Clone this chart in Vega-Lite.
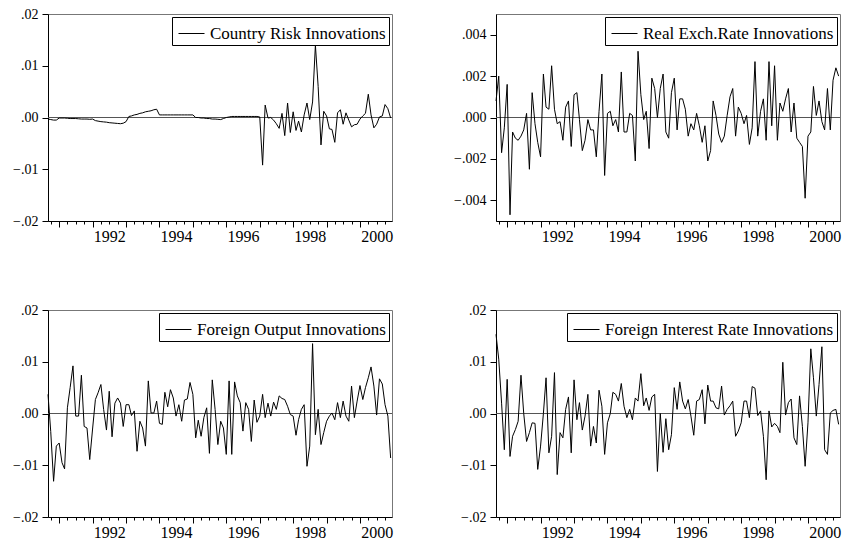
{
  "$schema": "https://vega.github.io/schema/vega-lite/v6.json",
  "padding": {"left": 12, "top": 6, "right": 0, "bottom": 0},
  "background": "white",
  "config": {
    "font": "Liberation Serif",
    "view": {"stroke": "#777777", "strokeWidth": 1},
    "axis": {"domainColor": "black", "tickColor": "black", "labelColor": "black", "labelFont": "Liberation Serif", "domainWidth": 1, "tickWidth": 1, "grid": false},
    "axisX": {"labelFontSize": 16},
    "axisY": {"labelFontSize": 14},
    "legend": {"orient": "top-right", "offset": 3, "symbolType": "stroke", "symbolSize": 676, "symbolStrokeWidth": 1, "labelFont": "Liberation Serif", "labelFontSize": 17, "labelColor": "black", "labelLimit": 0, "strokeColor": "black", "fillColor": "white", "padding": 3, "labelOffset": 5, "symbolOffset": 3}
  },
  "data": {"values": [
    {"date":"1990-09-01","cr":-0.0003,"rer":0.0008,"fo":0.0037,"fi":0.0153},
    {"date":"1990-10-01","cr":-0.0004,"rer":0.002,"fo":-0.0035,"fi":0.0105},
    {"date":"1990-11-01","cr":-0.0005,"rer":-0.0017,"fo":-0.0131,"fi":0.002},
    {"date":"1990-12-01","cr":-0.0005,"rer":-0.0005,"fo":-0.0063,"fi":-0.007},
    {"date":"1991-01-01","cr":-0.0001,"rer":0.0016,"fo":-0.0057,"fi":0.0066},
    {"date":"1991-02-01","cr":-0.0001,"rer":-0.0047,"fo":-0.0095,"fi":-0.0083},
    {"date":"1991-03-01","cr":-0.0001,"rer":-0.0007,"fo":-0.0107,"fi":-0.0044},
    {"date":"1991-04-01","cr":-0.00015,"rer":-0.001,"fo":0.0011,"fi":-0.0031},
    {"date":"1991-05-01","cr":-0.0002,"rer":-0.0011,"fo":0.005,"fi":-0.0015},
    {"date":"1991-06-01","cr":-0.0002,"rer":-0.0009,"fo":0.0092,"fi":0.0074},
    {"date":"1991-07-01","cr":-0.0002,"rer":-0.0006,"fo":-0.0005,"fi":0},
    {"date":"1991-08-01","cr":-0.00025,"rer":0.0002,"fo":-0.0005,"fi":-0.0054},
    {"date":"1991-09-01","cr":-0.0003,"rer":-0.0025,"fo":0.0074,"fi":-0.0037},
    {"date":"1991-10-01","cr":-0.0003,"rer":0.0012,"fo":-0.0025,"fi":-0.0018},
    {"date":"1991-11-01","cr":-0.0003,"rer":-0.0003,"fo":-0.0028,"fi":-0.0019},
    {"date":"1991-12-01","cr":-0.00035,"rer":-0.0012,"fo":-0.0089,"fi":-0.0108},
    {"date":"1992-01-01","cr":-0.0003,"rer":-0.0019,"fo":-0.003,"fi":-0.0063},
    {"date":"1992-02-01","cr":-0.0006,"rer":0.0021,"fo":0.0027,"fi":0},
    {"date":"1992-03-01","cr":-0.0007,"rer":0.0005,"fo":0.004,"fi":0.0069},
    {"date":"1992-04-01","cr":-0.0008,"rer":0.0004,"fo":0.0056,"fi":-0.0076},
    {"date":"1992-05-01","cr":-0.00085,"rer":0.0025,"fo":0.0008,"fi":-0.0044},
    {"date":"1992-06-01","cr":-0.0009,"rer":0.0004,"fo":-0.0032,"fi":0.0079},
    {"date":"1992-07-01","cr":-0.001,"rer":-0.0003,"fo":0.0043,"fi":-0.0118},
    {"date":"1992-08-01","cr":-0.00105,"rer":-0.0002,"fo":-0.0045,"fi":-0.0037},
    {"date":"1992-09-01","cr":-0.0011,"rer":-0.0011,"fo":0.002,"fi":-0.0047},
    {"date":"1992-10-01","cr":-0.00115,"rer":0.0005,"fo":0.003,"fi":0.0008},
    {"date":"1992-11-01","cr":-0.0012,"rer":0.0008,"fo":0.002,"fi":0.0032},
    {"date":"1992-12-01","cr":-0.0011,"rer":-0.0014,"fo":-0.0025,"fi":-0.0076},
    {"date":"1993-01-01","cr":-0.0008,"rer":0.0011,"fo":0.0017,"fi":0.0065},
    {"date":"1993-02-01","cr":0.0002,"rer":0.0012,"fo":0.0017,"fi":-0.0012},
    {"date":"1993-03-01","cr":0.0003,"rer":-0.0001,"fo":-0.0004,"fi":0.0021},
    {"date":"1993-04-01","cr":0.0005,"rer":-0.0016,"fo":0.0005,"fi":-0.0032},
    {"date":"1993-05-01","cr":0.0006,"rer":-0.0011,"fo":-0.0073,"fi":-0.0005},
    {"date":"1993-06-01","cr":0.0008,"rer":-0.0001,"fo":-0.0015,"fi":0.0037},
    {"date":"1993-07-01","cr":0.0009,"rer":-0.0006,"fo":-0.0028,"fi":-0.0063},
    {"date":"1993-08-01","cr":0.0011,"rer":-0.0006,"fo":-0.0063,"fi":-0.0025},
    {"date":"1993-09-01","cr":0.0012,"rer":-0.0019,"fo":0.0063,"fi":-0.0057},
    {"date":"1993-10-01","cr":0.0013,"rer":0.0003,"fo":0.0001,"fi":0.0045},
    {"date":"1993-11-01","cr":0.0015,"rer":0.0021,"fo":0.0001,"fi":0.0014},
    {"date":"1993-12-01","cr":0.0016,"rer":-0.0028,"fo":0.0024,"fi":-0.0079},
    {"date":"1994-01-01","cr":0.0005,"rer":0.0002,"fo":-0.0019,"fi":-0.0018},
    {"date":"1994-02-01","cr":0.0005,"rer":0.0003,"fo":-0.0021,"fi":0},
    {"date":"1994-03-01","cr":0.0005,"rer":-0.0004,"fo":0.0041,"fi":0.0041},
    {"date":"1994-04-01","cr":0.0005,"rer":-0.0001,"fo":0.0013,"fi":0.0037},
    {"date":"1994-05-01","cr":0.0005,"rer":-0.0007,"fo":0.0046,"fi":0.0024},
    {"date":"1994-06-01","cr":0.0005,"rer":0.0022,"fo":0.003,"fi":0.0058},
    {"date":"1994-07-01","cr":0.0005,"rer":-0.0007,"fo":-0.0005,"fi":0.0014},
    {"date":"1994-08-01","cr":0.0005,"rer":-0.0007,"fo":0.0017,"fi":-0.0008},
    {"date":"1994-09-01","cr":0.0005,"rer":0.0002,"fo":-0.0015,"fi":0.0008},
    {"date":"1994-10-01","cr":0.0005,"rer":0.0001,"fo":0.0026,"fi":-0.0012},
    {"date":"1994-11-01","cr":0.0005,"rer":-0.0021,"fo":0.0028,"fi":0.003},
    {"date":"1994-12-01","cr":0.0005,"rer":0.0032,"fo":0.006,"fi":0.0024},
    {"date":"1995-01-01","cr":0.0005,"rer":0.0011,"fo":0.0037,"fi":0.0077},
    {"date":"1995-02-01","cr":0,"rer":-0.0001,"fo":-0.0047,"fi":0.0015},
    {"date":"1995-03-01","cr":0,"rer":0.0003,"fo":-0.0013,"fi":0.003},
    {"date":"1995-04-01","cr":-0.0001,"rer":-0.0015,"fo":-0.0044,"fi":0.0006},
    {"date":"1995-05-01","cr":-0.0001,"rer":0.0019,"fo":-0.0008,"fi":0.0032},
    {"date":"1995-06-01","cr":-0.0002,"rer":0.0014,"fo":0.0011,"fi":0.0037},
    {"date":"1995-07-01","cr":-0.0002,"rer":0,"fo":-0.0077,"fi":-0.0112},
    {"date":"1995-08-01","cr":-0.0003,"rer":0.0014,"fo":0.0065,"fi":0},
    {"date":"1995-09-01","cr":-0.0003,"rer":0.0021,"fo":0.0008,"fi":-0.0075},
    {"date":"1995-10-01","cr":-0.00035,"rer":-0.0007,"fo":-0.006,"fi":-0.001},
    {"date":"1995-11-01","cr":-0.0004,"rer":-0.001,"fo":-0.0015,"fi":-0.007},
    {"date":"1995-12-01","cr":-0.0002,"rer":0.0012,"fo":-0.0028,"fi":-0.0041},
    {"date":"1996-01-01","cr":0,"rer":0.0019,"fo":-0.0079,"fi":0.005},
    {"date":"1996-02-01","cr":0.0001,"rer":-0.0006,"fo":0.0063,"fi":0.0008},
    {"date":"1996-03-01","cr":0.0002,"rer":0.0009,"fo":-0.0079,"fi":0.0061},
    {"date":"1996-04-01","cr":0.0002,"rer":0.0009,"fo":0.0061,"fi":0.0024},
    {"date":"1996-05-01","cr":0.0002,"rer":0.0004,"fo":0.0034,"fi":0.0009},
    {"date":"1996-06-01","cr":0.0002,"rer":-0.0009,"fo":0.0021,"fi":0.0027},
    {"date":"1996-07-01","cr":0.0002,"rer":-0.0003,"fo":-0.0034,"fi":-0.0005},
    {"date":"1996-08-01","cr":0.0002,"rer":-0.0006,"fo":0.0021,"fi":-0.0042},
    {"date":"1996-09-01","cr":0.0002,"rer":0.0002,"fo":0.0008,"fi":0.0024},
    {"date":"1996-10-01","cr":0.0002,"rer":-0.0004,"fo":-0.0054,"fi":0.0027},
    {"date":"1996-11-01","cr":0.0002,"rer":-0.0012,"fo":0.0026,"fi":0.0046},
    {"date":"1996-12-01","cr":0.0002,"rer":-0.0004,"fo":-0.0017,"fi":-0.002},
    {"date":"1997-01-01","cr":0.0001,"rer":-0.0021,"fo":-0.0005,"fi":0.0055},
    {"date":"1997-02-01","cr":-0.0092,"rer":-0.0016,"fo":0.0037,"fi":0.0024},
    {"date":"1997-03-01","cr":0.0024,"rer":0.0008,"fo":-0.0008,"fi":0.0024},
    {"date":"1997-04-01","cr":-0.0001,"rer":0.0001,"fo":0.002,"fi":0.0011},
    {"date":"1997-05-01","cr":0,"rer":-0.0008,"fo":-0.0005,"fi":0.0009},
    {"date":"1997-06-01","cr":-0.0005,"rer":-0.0012,"fo":0.0022,"fi":0.0053},
    {"date":"1997-07-01","cr":-0.0012,"rer":-0.0009,"fo":0.0008,"fi":-0.0003},
    {"date":"1997-08-01","cr":-0.0021,"rer":0.0001,"fo":0.0034,"fi":0.0008},
    {"date":"1997-09-01","cr":0.0008,"rer":0.001,"fo":0.0029,"fi":0.0015},
    {"date":"1997-10-01","cr":-0.0035,"rer":0.0014,"fo":0.0027,"fi":0.0024},
    {"date":"1997-11-01","cr":0.0028,"rer":-0.0009,"fo":0.0014,"fi":-0.0044},
    {"date":"1997-12-01","cr":-0.0029,"rer":0.0005,"fo":-0.0002,"fi":-0.0034},
    {"date":"1998-01-01","cr":0.0011,"rer":0.0002,"fo":-0.0005,"fi":-0.0018},
    {"date":"1998-02-01","cr":-0.0025,"rer":-0.0003,"fo":-0.0042,"fi":0.0024},
    {"date":"1998-03-01","cr":-0.0007,"rer":0.0001,"fo":-0.0012,"fi":0.0024},
    {"date":"1998-04-01","cr":-0.0028,"rer":-0.0013,"fo":0.0008,"fi":-0.0008},
    {"date":"1998-05-01","cr":0.0005,"rer":-0.0005,"fo":0.0017,"fi":0.0052},
    {"date":"1998-06-01","cr":0.0028,"rer":0.0027,"fo":-0.0102,"fi":0.0049},
    {"date":"1998-07-01","cr":-0.0004,"rer":-0.0009,"fo":-0.0063,"fi":-0.0004},
    {"date":"1998-08-01","cr":0.003,"rer":0.0003,"fo":0.0135,"fi":0.0005},
    {"date":"1998-09-01","cr":0.014,"rer":0.0009,"fo":-0.0041,"fi":-0.0044},
    {"date":"1998-10-01","cr":0.006,"rer":-0.0011,"fo":0.0008,"fi":-0.0128},
    {"date":"1998-11-01","cr":-0.0053,"rer":0.0027,"fo":-0.006,"fi":0.0005},
    {"date":"1998-12-01","cr":0.0012,"rer":-0.0004,"fo":-0.0037,"fi":-0.0026},
    {"date":"1999-01-01","cr":0.0003,"rer":0.0025,"fo":-0.0015,"fi":-0.0019},
    {"date":"1999-02-01","cr":-0.0022,"rer":-0.0011,"fo":-0.0005,"fi":-0.0025},
    {"date":"1999-03-01","cr":-0.0023,"rer":0.0007,"fo":0.0001,"fi":-0.0037},
    {"date":"1999-04-01","cr":-0.0048,"rer":0.0003,"fo":-0.0012,"fi":0.0099},
    {"date":"1999-05-01","cr":0.0009,"rer":0.0009,"fo":0.0021,"fi":-0.0003},
    {"date":"1999-06-01","cr":0.0015,"rer":0.0014,"fo":-0.0008,"fi":0.0021},
    {"date":"1999-07-01","cr":-0.0013,"rer":-0.0007,"fo":0.0024,"fi":0.0028},
    {"date":"1999-08-01","cr":0.0009,"rer":0.0007,"fo":-0.0005,"fi":-0.0047},
    {"date":"1999-09-01","cr":-0.0005,"rer":-0.001,"fo":-0.0015,"fi":-0.006},
    {"date":"1999-10-01","cr":-0.0018,"rer":-0.0012,"fo":0.0053,"fi":0.0034},
    {"date":"1999-11-01","cr":-0.0014,"rer":-0.0014,"fo":-0.0008,"fi":-0.0025},
    {"date":"1999-12-01","cr":-0.0013,"rer":-0.0039,"fo":0.0024,"fi":-0.0102},
    {"date":"2000-01-01","cr":-0.0003,"rer":-0.0009,"fo":0.0054,"fi":-0.0018},
    {"date":"2000-02-01","cr":0.0003,"rer":-0.0007,"fo":0.0027,"fi":0.0125},
    {"date":"2000-03-01","cr":0.0008,"rer":0.0015,"fo":0.005,"fi":0.0069},
    {"date":"2000-04-01","cr":0.0045,"rer":0.0001,"fo":0.0069,"fi":-0.0005},
    {"date":"2000-05-01","cr":0.0005,"rer":0.0008,"fo":0.009,"fi":0.0056},
    {"date":"2000-06-01","cr":-0.002,"rer":-0.0002,"fo":0.0053,"fi":0.0129},
    {"date":"2000-07-01","cr":-0.0013,"rer":-0.0006,"fo":-0.0003,"fi":-0.007},
    {"date":"2000-08-01","cr":0.0001,"rer":0.0014,"fo":0.0067,"fi":-0.0079},
    {"date":"2000-09-01","cr":0.0003,"rer":-0.0006,"fo":0.0057,"fi":0.0001},
    {"date":"2000-10-01","cr":0.0025,"rer":0.0018,"fo":0.0017,"fi":0.0006},
    {"date":"2000-11-01","cr":0.0017,"rer":0.0024,"fo":-0.0005,"fi":0.0008},
    {"date":"2000-12-01","cr":-0.0001,"rer":0.002,"fo":-0.0086,"fi":-0.0021}
  ]},
  "spacing": 54,
  "resolve": {"scale": {"color": "independent", "x": "independent", "y": "independent"}},
  "vconcat": [
    {
      "spacing": 104,
      "bounds": "flush",
      "resolve": {"scale": {"color": "independent", "x": "independent", "y": "independent"}},
      "hconcat": [
        {
          "width": 344, "height": 207,
          "layer": [
            {"data": {"values": [{"zero": 0}]}, "mark": {"type": "rule", "color": "#555555", "strokeWidth": 1}, "encoding": {"y": {"field": "zero", "type": "quantitative", "axis": {"title": null}}}},
            {"mark": {"type": "line", "strokeWidth": 1},
             "encoding": {
               "x": {"field": "date", "type": "temporal", "scale": {"type": "utc", "nice": false, "domain": [{"year": 1990, "month": 9, "date": 1, "utc": true}, {"year": 2000, "month": 12, "date": 16, "utc": true}]},
                     "axis": {"title": null, "tickCount": {"interval": "month", "step": 3}, "labelExpr": "utcmonth(datum.value)==6 && utcyear(datum.value)%2==0 ? ''+utcyear(datum.value) : ''", "tickSize": {"condition": {"test": "utcmonth(datum.value)==0", "value": 6}, "value": 3}, "labelOverlap": false, "labelBound": false, "labelFlush": false, "labelPadding": 4}},
               "y": {"field": "cr", "type": "quantitative", "scale": {"domain": [-0.02, 0.02], "nice": false}, "axis": {"title": null, "values": [-0.02, -0.01, 0, 0.01, 0.02], "labelExpr": "replace(format(datum.value,'.2f'),'0.','.')", "tickSize": 6, "labelPadding": 4}},
               "color": {"datum": "Country Risk Innovations", "type": "nominal", "scale": {"range": ["black"]}, "legend": {"title": null}}
             }}
          ]
        },
        {
          "width": 344, "height": 207,
          "layer": [
            {"data": {"values": [{"zero": 0}]}, "mark": {"type": "rule", "color": "#555555", "strokeWidth": 1}, "encoding": {"y": {"field": "zero", "type": "quantitative", "axis": {"title": null}}}},
            {"mark": {"type": "line", "strokeWidth": 1},
             "encoding": {
               "x": {"field": "date", "type": "temporal", "scale": {"type": "utc", "nice": false, "domain": [{"year": 1990, "month": 9, "date": 1, "utc": true}, {"year": 2000, "month": 12, "date": 16, "utc": true}]},
                     "axis": {"title": null, "tickCount": {"interval": "month", "step": 3}, "labelExpr": "utcmonth(datum.value)==6 && utcyear(datum.value)%2==0 ? ''+utcyear(datum.value) : ''", "tickSize": {"condition": {"test": "utcmonth(datum.value)==0", "value": 6}, "value": 3}, "labelOverlap": false, "labelBound": false, "labelFlush": false, "labelPadding": 4}},
               "y": {"field": "rer", "type": "quantitative", "scale": {"domain": [-0.005, 0.005], "nice": false}, "axis": {"title": null, "values": [-0.004, -0.002, 0, 0.002, 0.004], "labelExpr": "replace(format(datum.value,'.3f'),'0.','.')", "tickSize": 6, "labelPadding": 4}},
               "color": {"datum": "Real Exch.Rate Innovations", "type": "nominal", "scale": {"range": ["black"]}, "legend": {"title": null}}
             }}
          ]
        }
      ]
    },
    {
      "spacing": 104,
      "bounds": "flush",
      "resolve": {"scale": {"color": "independent", "x": "independent", "y": "independent"}},
      "hconcat": [
        {
          "width": 344, "height": 207,
          "layer": [
            {"data": {"values": [{"zero": 0}]}, "mark": {"type": "rule", "color": "#555555", "strokeWidth": 1}, "encoding": {"y": {"field": "zero", "type": "quantitative", "axis": {"title": null}}}},
            {"mark": {"type": "line", "strokeWidth": 1},
             "encoding": {
               "x": {"field": "date", "type": "temporal", "scale": {"type": "utc", "nice": false, "domain": [{"year": 1990, "month": 9, "date": 1, "utc": true}, {"year": 2000, "month": 12, "date": 16, "utc": true}]},
                     "axis": {"title": null, "tickCount": {"interval": "month", "step": 3}, "labelExpr": "utcmonth(datum.value)==6 && utcyear(datum.value)%2==0 ? ''+utcyear(datum.value) : ''", "tickSize": {"condition": {"test": "utcmonth(datum.value)==0", "value": 6}, "value": 3}, "labelOverlap": false, "labelBound": false, "labelFlush": false, "labelPadding": 4}},
               "y": {"field": "fo", "type": "quantitative", "scale": {"domain": [-0.02, 0.02], "nice": false}, "axis": {"title": null, "values": [-0.02, -0.01, 0, 0.01, 0.02], "labelExpr": "replace(format(datum.value,'.2f'),'0.','.')", "tickSize": 6, "labelPadding": 4}},
               "color": {"datum": "Foreign Output Innovations", "type": "nominal", "scale": {"range": ["black"]}, "legend": {"title": null}}
             }}
          ]
        },
        {
          "width": 344, "height": 207,
          "layer": [
            {"data": {"values": [{"zero": 0}]}, "mark": {"type": "rule", "color": "#555555", "strokeWidth": 1}, "encoding": {"y": {"field": "zero", "type": "quantitative", "axis": {"title": null}}}},
            {"mark": {"type": "line", "strokeWidth": 1},
             "encoding": {
               "x": {"field": "date", "type": "temporal", "scale": {"type": "utc", "nice": false, "domain": [{"year": 1990, "month": 9, "date": 1, "utc": true}, {"year": 2000, "month": 12, "date": 16, "utc": true}]},
                     "axis": {"title": null, "tickCount": {"interval": "month", "step": 3}, "labelExpr": "utcmonth(datum.value)==6 && utcyear(datum.value)%2==0 ? ''+utcyear(datum.value) : ''", "tickSize": {"condition": {"test": "utcmonth(datum.value)==0", "value": 6}, "value": 3}, "labelOverlap": false, "labelBound": false, "labelFlush": false, "labelPadding": 4}},
               "y": {"field": "fi", "type": "quantitative", "scale": {"domain": [-0.02, 0.02], "nice": false}, "axis": {"title": null, "values": [-0.02, -0.01, 0, 0.01, 0.02], "labelExpr": "replace(format(datum.value,'.2f'),'0.','.')", "tickSize": 6, "labelPadding": 4}},
               "color": {"datum": "Foreign Interest Rate Innovations", "type": "nominal", "scale": {"range": ["black"]}, "legend": {"title": null}}
             }}
          ]
        }
      ]
    }
  ]
}
